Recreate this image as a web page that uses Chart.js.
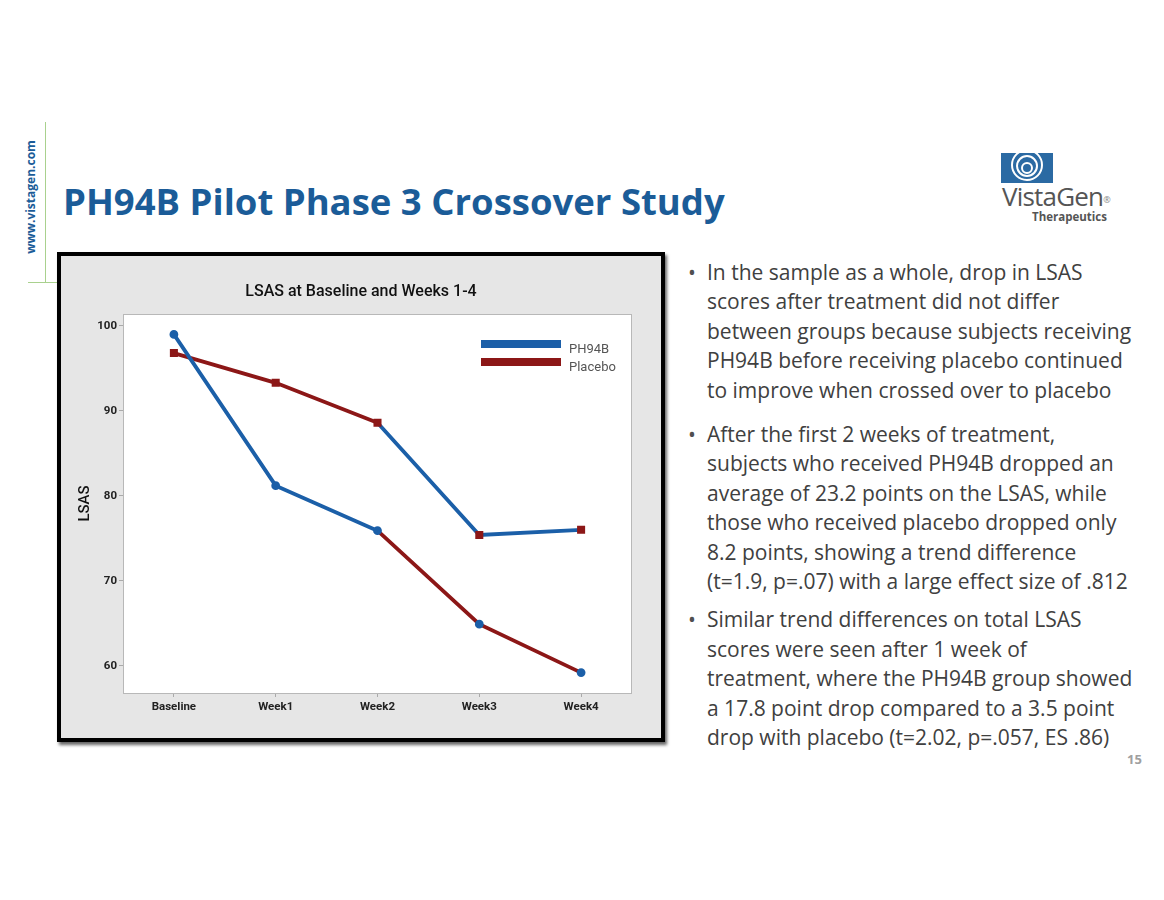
<!DOCTYPE html>
<html>
<head>
<meta charset="utf-8">
<script src="https://cdn.jsdelivr.net/npm/chart.js@4.4.1/dist/chart.umd.min.js"></script>
<style>
  html, body { margin: 0; padding: 0; background: #fff; }
  body { width: 1164px; height: 900px; position: relative; overflow: hidden; font-family: 'Open Sans', sans-serif; }
  .site {
    position: absolute; left: 30px; top: 197px;
    transform: translate(-50%, -50%) rotate(-90deg);
    color: #1b5c98; font: bold 12px 'Open Sans', sans-serif; white-space: nowrap;
  }
  .vline { position: absolute; left: 45px; top: 122px; width: 1px; height: 160px; background: #a9d18e; }
  .hline { position: absolute; left: 28px; top: 282px; width: 34px; height: 1px; background: #a9d18e; }
  h1 {
    position: absolute; left: 63px; top: 176px; margin: 0;
    font: bold 36.5px 'Open Sans', sans-serif; color: #1b5c98; white-space: nowrap;
  }
  .frame {
    position: absolute; left: 57px; top: 252px; width: 600px; height: 482px;
    border: 4px solid #000; background: #e6e6e6; box-shadow: 2px 3px 3px #666;
  }
  .frame canvas { display: block; }
  .bullets {
    position: absolute; left: 688px; top: 258px; width: 476px;
    color: #404040; font-size: 21px; line-height: 29.4px;
  }
  .bullets p { margin: 0; padding-left: 19px; position: relative; white-space: nowrap; }
  .bullets p.first { margin-bottom: 15px; }
  .bullets p.second { margin-bottom: 9px; }
  .bullets p::before { content: "\2022"; position: absolute; left: 0; top: 0; color: #505050; }
  .pageno { position: absolute; left: 1127px; top: 750px; color: #a0a0a0; font: bold 13px 'Open Sans', sans-serif; }
  .logo { position: absolute; left: 1001px; top: 153px; }
  .logo .name { position: absolute; left: 1px; top: 25px; font: 26px 'Open Sans', sans-serif; color: #555; white-space: nowrap; letter-spacing: -0.8px; }
  .logo .name sup { font-size: 9px; color: #888; vertical-align: middle; letter-spacing: 0; }
  .logo .sub { position: absolute; left: 31px; top: 56px; font: bold 11.5px 'Open Sans', sans-serif; color: #555; white-space: nowrap; }
</style>
</head>
<body>
<div class="site">www.vistagen.com</div>
<div class="vline"></div>
<div class="hline"></div>
<h1>PH94B Pilot Phase 3 Crossover Study</h1>

<div class="logo">
  <svg width="52" height="30" viewBox="0 0 52 30">
    <rect x="0" y="0" width="52" height="30" fill="#2b6aa3"/>
    <circle cx="26" cy="12" r="15" fill="none" stroke="#fff" stroke-width="2"/>
    <circle cx="26" cy="13" r="10" fill="none" stroke="#fff" stroke-width="2"/>
    <circle cx="26" cy="15" r="5" fill="none" stroke="#fff" stroke-width="2"/>
  </svg>
  <div class="name">VistaGen<sup>&reg;</sup></div>
  <div class="sub">Therapeutics</div>
</div>

<div class="frame"><div style="position:relative;width:600px;height:482px"><canvas id="c"></canvas></div></div>

<div class="bullets">
  <p class="first">In the sample as a whole, drop in LSAS<br>scores after treatment did not differ<br>between groups because subjects receiving<br>PH94B before receiving placebo continued<br>to improve when crossed over to placebo</p>
  <p class="second">After the first 2 weeks of treatment,<br>subjects who received PH94B dropped an<br>average of 23.2 points on the LSAS, while<br>those who received placebo dropped only<br>8.2 points, showing a trend difference<br>(t=1.9, p=.07) with a large effect size of .812</p>
  <p>Similar trend differences on total LSAS<br>scores were seen after 1 week of<br>treatment, where the PH94B group showed<br>a 17.8 point drop compared to a 3.5 point<br>drop with placebo (t=2.02, p=.057, ES .86)</p>
</div>
<div class="pageno">15</div>

<script>
const weeks = ['Baseline', 'Week1', 'Week2', 'Week3', 'Week4']
// group that got PH94B first, then crossed over to placebo
const drugFirst = [99.0, 81.2, 75.9, 64.9, 59.2]
// group that got placebo first, then crossed over to PH94B
const placeboFirst = [96.8, 93.3, 88.6, 75.4, 76.0]
const yTicks = [60, 70, 80, 90, 100]
const legendNames = ['PH94B', 'Placebo']
const chartTitle = 'LSAS at Baseline and Weeks 1-4'

const blue = '#1b5fa8'
const red = '#8c1717'
const crossAt = 2 // segments from Week2 on are after crossover

const plotBackground = {
    id: 'plotBackground',
    beforeDraw(chart) {
        const { ctx, chartArea: a } = chart
        ctx.save()
        ctx.fillStyle = '#fff'
        ctx.fillRect(a.left, a.top, a.right - a.left, a.bottom - a.top)
        ctx.restore()
    },
    afterDraw(chart) {
        const { ctx, chartArea: a } = chart
        ctx.save()
        ctx.strokeStyle = '#b8b8b8'
        ctx.lineWidth = 1
        ctx.strokeRect(a.left + 0.5, a.top + 0.5, a.right - a.left - 1, a.bottom - a.top)
        // title centred on the whole panel, like the original
        ctx.fillStyle = '#111'
        ctx.font = "500 16px Roboto"
        ctx.textAlign = 'center'
        ctx.textBaseline = 'middle'
        ctx.fillText(chartTitle, chart.width / 2, 36)
        ctx.restore()
    }
}

const boxLegend = {
    id: 'boxLegend',
    afterDraw(chart) {
        const { ctx, chartArea: a } = chart
        const colors = [blue, red]
        ctx.save()
        ctx.font = "13px Roboto"
        ctx.textBaseline = 'middle'
        legendNames.forEach((name, i) => {
            const x = a.right - 151
            const y = a.top + 26 + i * 18
            ctx.fillStyle = colors[i]
            ctx.fillRect(x, y, 80, 8)
            ctx.fillStyle = '#555'
            ctx.fillText(name, x + 88, y + 10)
        })
        ctx.restore()
    }
}

new Chart(document.getElementById('c'), {
    type: 'line',
    data: {
        labels: weeks,
        datasets: [{
            label: 'PH94B first',
            data: drugFirst,
            borderWidth: 3.8,
            borderColor: blue,
            segment: { borderColor: ctx => ctx.p0DataIndex < crossAt ? blue : red },
            pointStyle: 'circle',
            pointRadius: 2.5,
            pointBackgroundColor: blue,
            pointBorderColor: blue,
            tension: 0,
            order: 1
        }, {
            label: 'Placebo first',
            data: placeboFirst,
            borderWidth: 3.8,
            borderColor: red,
            segment: { borderColor: ctx => ctx.p0DataIndex < crossAt ? red : blue },
            pointStyle: 'rect',
            pointRadius: 3,
            pointBackgroundColor: red,
            pointBorderColor: red,
            tension: 0,
            order: 2
        }]
    },
    options: {
        responsive: true,
        maintainAspectRatio: false,
        animation: false,
        layout: { padding: { left: 0, right: 29, top: 58, bottom: 0 } },
        plugins: {
            legend: { display: false },
            tooltip: { enabled: false },
            title: { display: false }
        },
        scales: {
            x: {
                offset: true,
                grid: { drawOnChartArea: false, drawTicks: true, tickLength: 4, tickColor: '#aaa', offset: false },
                border: { display: false },
                ticks: { color: '#222', padding: 3, font: { family: 'Roboto', size: 11.5, weight: 'bold' } },
                afterFit: scale => { scale.height = 45 }
            },
            y: {
                min: 56.8,
                max: 101.4,
                afterBuildTicks: scale => { scale.ticks = yTicks.map(v => ({ value: v })) },
                grid: { drawOnChartArea: false, drawTicks: true, tickLength: 4, tickColor: '#aaa' },
                border: { display: false },
                ticks: { color: '#222', padding: 2, font: { family: 'Roboto', size: 11.5, weight: 'bold' } },
                title: {
                    display: true,
                    text: 'LSAS',
                    color: '#111',
                    font: { family: 'Roboto', size: 15, weight: '500' },
                    padding: { top: 15, bottom: 0 }
                },
                afterFit: scale => { scale.width = 62 }
            }
        }
    },
    plugins: [plotBackground, boxLegend]
})
</script>
</body>
</html>
